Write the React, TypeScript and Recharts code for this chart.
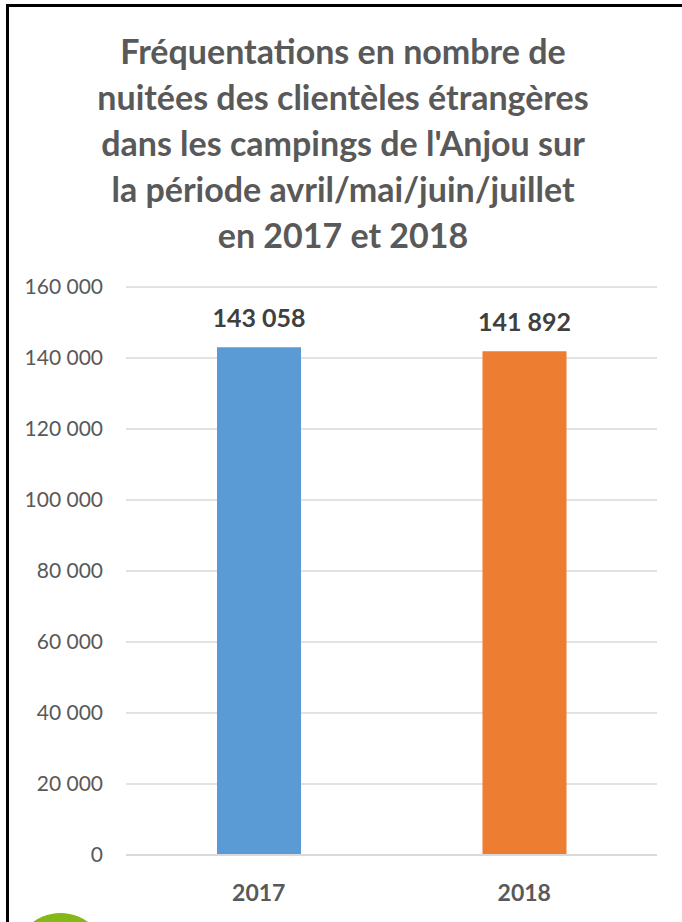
import React from 'react'
import { BarChart, Bar, XAxis, YAxis, CartesianGrid, LabelList, Cell } from 'recharts'

const years = ['2017', '2018']
const nuitees = [143058, 141892]
const barColors = ['#5B9BD5', '#ED7D31']
const yTicks = [0, 20000, 40000, 60000, 80000, 100000, 120000, 140000, 160000]
const titleLines = [
  'Fréquentations en nombre de',
  'nuitées des clientèles étrangères',
  "dans les campings de l'Anjou sur",
  'la période avril/mai/juin/juillet',
  'en 2017 et 2018',
]

const data = years.map((year, i) => ({ year, value: nuitees[i] }))

const fmt = (v: number) => String(v).replace(/\B(?=(\d{3})+(?!\d))/g, ' ')

export default function App() {
  return (
    <div style={{ position: 'absolute', left: 0, top: 0, width: 682, height: 922, overflow: 'hidden', background: '#fff', fontFamily: 'Lato, sans-serif' }}>
      {/* frame of the original screenshot */}
      <div style={{ position: 'absolute', left: 6, top: 4, width: 720, height: 1000, border: '3px solid #000' }} />
      <div style={{ position: 'absolute', left: 14, top: 913, width: 93, height: 93, borderRadius: '50%', background: '#84b817' }} />

      <div style={{ position: 'absolute', left: 0, top: 28, width: 686, textAlign: 'center', fontWeight: 700, fontSize: 34, lineHeight: '46px', color: '#595959' }}>
        {titleLines.map((l) => <div key={l}>{l}</div>)}
      </div>

      <div style={{ position: 'absolute', left: 0, top: 0 }}>
        <BarChart width={682} height={922} data={data} margin={{ top: 287, right: 25, left: 0, bottom: 0 }}>
          <CartesianGrid vertical={false} stroke="#d9d9d9" strokeWidth={1.5} />
          <XAxis
            dataKey="year"
            height={67}
            axisLine={{ stroke: '#d9d9d9', strokeWidth: 2 }}
            tickLine={false}
            tickMargin={24}
            tick={{ fill: '#595959', fontSize: 23, fontWeight: 700, fontFamily: 'Lato' }}
          />
          <YAxis
            width={126}
            domain={[0, 160000]}
            ticks={yTicks}
            interval={0}
            axisLine={false}
            tickLine={false}
            tickMargin={17}
            tickFormatter={fmt}
            tick={{ fill: '#595959', fontSize: 21, fontFamily: 'Lato' }}
          />
          <Bar dataKey="value" barSize={84} isAnimationActive={false}>
            {data.map((d, i) => <Cell key={d.year} fill={barColors[i]} />)}
            <LabelList dataKey="value" position="top" offset={20} formatter={(v: any) => fmt(v)} fill="#404040" fontSize={25} fontWeight={700} fontFamily="Lato" />
          </Bar>
        </BarChart>
      </div>
    </div>
  )
}
